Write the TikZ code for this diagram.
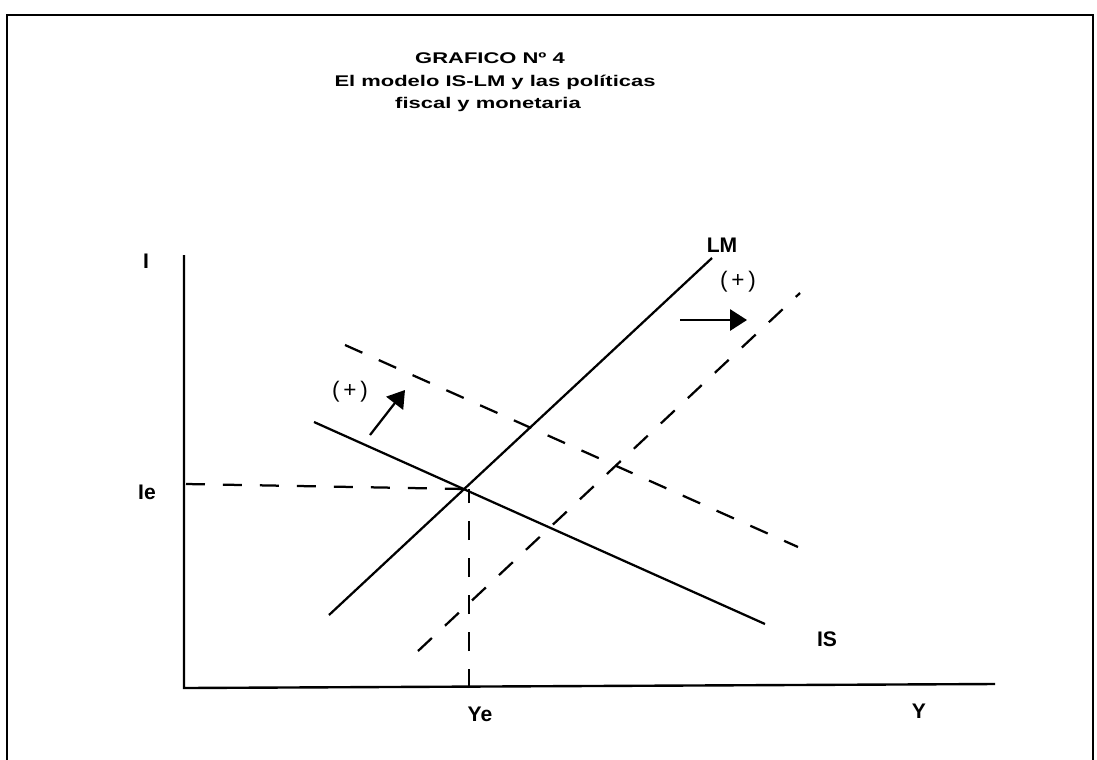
\documentclass[tikz,border=0pt]{standalone}
\usepackage{fontspec}
\setmainfont{Liberation Sans}
\usetikzlibrary{arrows.meta}

\begin{document}
\begin{tikzpicture}[>={Triangle[length=12pt,width=15pt]},x=0.025cm,y=-0.025cm,
  curve/.style={line width=1.6pt},
  shifted/.style={curve,dash pattern=on 13.5pt off 12.8pt},
  title/.style={font=\fontsize{11}{13}\selectfont\bfseries,inner sep=0pt},
  lbl/.style={font=\fontsize{15}{18}\selectfont\bfseries,inner sep=0pt},
  sign/.style={font=\fontsize{16}{19}\selectfont,inner sep=0pt}]
  \clip (0,0) rectangle (1097,759);
  % Frame
  \draw[line width=2pt] (7,790) -- (7,15) -- (1093,15) -- (1093,790);
  % Title
  \node[title] (t1) at (490,58) {\scalebox{1.42}[1]{GRAFICO Nº 4}};
  \node[title] (t2) at (495,82) {\scalebox{1.42}[1]{El modelo IS-LM y las políticas}};
  \node[title] (t3) at (488,104) {\scalebox{1.42}[1]{fiscal y monetaria}};
  % Axes
  \draw[line width=1.7pt] (184,255) -- (184,688) -- (995,684);
  \node[lbl] (iaxis) at (146,261) {I};
  \node[lbl] (yaxis) at (919,711) {Y};
  % IS and LM
  \draw[curve] (314,422) -- (765,624);
  \draw[curve] (329,615) -- (712,258);
  \node[lbl] (lm) at (722,245) {LM};
  \node[lbl] (is) at (827,639) {IS};
  % Shifted curves
  \draw[shifted] (345,345) -- (798,547);
  \draw[shifted] (418,651) -- (800,293);
  % Equilibrium
  \coordinate (E) at (465,489);
  \coordinate (ie) at (186,484);
  \coordinate (ye) at (469,688);
  \draw[shifted] (ie) -- (E);
  \draw[shifted] (ye) -- (469,489);
  \node[lbl] (ielbl) at (147,492) {Ie};
  \node[lbl] (yelbl) at (480,714) {Ye};
  % Policy arrows
  \coordinate (f0) at (370,435);
  \coordinate (f1) at (405,390);
  \coordinate (m0) at (680,320);
  \coordinate (m1) at (747,320);
  \draw[->,line width=1.6pt] (f0) -- (f1);
  \draw[->,line width=1.6pt] (m0) -- (m1);
  \node[sign] (fplus) at (350,392) {(\,+\,)};
  \node[sign] (mplus) at (738,282) {(\,+\,)};
\end{tikzpicture}
\end{document}
